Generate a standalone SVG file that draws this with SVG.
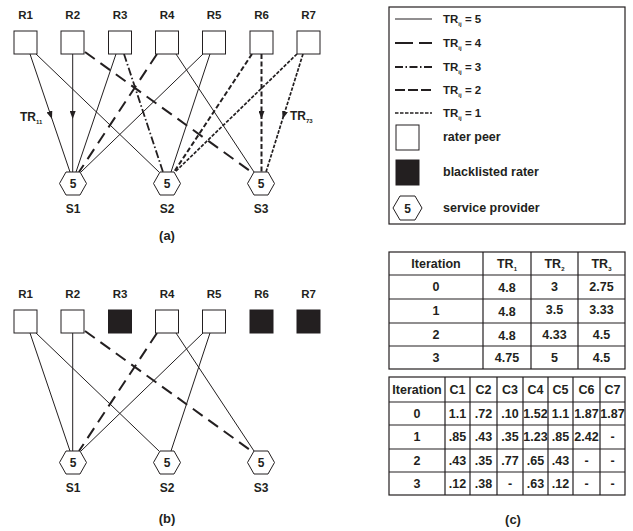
<svg xmlns="http://www.w3.org/2000/svg" xmlns:xlink="http://www.w3.org/1999/xlink" width="633" height="531" viewBox="0 0 633 531">
  <style>
    text { font-family: "Liberation Sans", Arial, sans-serif; font-weight: bold; fill: #231f20; }
    .lbl { font-size: 11.5px; text-anchor: middle; }
    .cap { font-size: 13px; text-anchor: middle; }
    .num { font-size: 12px; text-anchor: middle; }
    .leg { font-size: 11.5px; }
    .legw { font-size: 12.5px; }
    .cell { font-size: 12.5px; text-anchor: middle; }
    .sub { font-size: 6px; }
    .box { fill: #fff; stroke: #231f20; stroke-width: 1; }
    .blk { fill: #231f20; stroke: #231f20; stroke-width: 1; }
    .hex { fill: #fff; stroke: #231f20; stroke-width: 1; }
    .frame { fill: none; stroke: #231f20; stroke-width: 1.2; }
    .grid { stroke: #231f20; stroke-width: 1.2; }
    .tr5 { fill: none; stroke: #231f20; stroke-width: 1; }
    .tr4 { fill: none; stroke: #231f20; stroke-width: 2; stroke-dasharray: 12 7; }
    .tr3 { fill: none; stroke: #231f20; stroke-width: 1.8; stroke-dasharray: 8 2.5 1.5 2.5; }
    .tr2 { fill: none; stroke: #231f20; stroke-width: 2; stroke-dasharray: 5 2.5; }
    .tr1 { fill: none; stroke: #231f20; stroke-width: 1.7; stroke-dasharray: 3.5 1.5; }
    .arr { marker-mid: url(#ah); }
  </style>
  <defs>
    <polygon id="hx" class="hex" points="-13.5,0 -7,-11.5 7,-11.5 13.5,0 7,11.5 -7,11.5"/>
    <marker id="ah" viewBox="0 0 8 6" refX="8" refY="3" markerWidth="8" markerHeight="6" markerUnits="userSpaceOnUse" orient="auto">
      <path d="M0,0L8,3L0,6Z" fill="#231f20"/>
    </marker>
  </defs>

  <!-- Panel (a): trust ratings before filtering -->
  <g id="panel-a">
    <g id="a-connectors">
      <path class="tr5 arr" d="M30,54 L52,119 L70,172"/>
      <path class="tr5" d="M36,54 L159,172"/>
      <path class="tr5 arr" d="M72.7,54 L72.7,119 L72.7,172"/>
      <path class="tr4" d="M85,52 L250,171"/>
      <path class="tr5" d="M116,54 L76,172"/>
      <path class="tr3" d="M124,54 L163,172"/>
      <path class="tr4" d="M157,54 L79,172"/>
      <path class="tr5" d="M176,54 L254,172"/>
      <path class="tr5" d="M203,54 L81,172"/>
      <path class="tr5" d="M210,54 L171,172"/>
      <path class="tr2" d="M252,54 L174,172"/>
      <path class="tr2 arr" d="M261.5,54 L261.5,119 L261.5,172"/>
      <path class="tr1" d="M297,54 L175,172"/>
      <path class="tr1 arr" d="M303,54 L282.6,119 L266,172"/>
      <text x="20" y="121" style="font-size:12px">TR<tspan class="sub" dy="3">11</tspan></text>
      <text x="290" y="120" style="font-size:12px">TR<tspan class="sub" dy="3">73</tspan></text>
    </g>
    <g id="a-R1"><rect class="box" x="14" y="31" width="23" height="23"/><text class="lbl" x="25.5" y="19">R1</text></g>
    <g id="a-R2"><rect class="box" x="61" y="31" width="23" height="23"/><text class="lbl" x="72.7" y="19">R2</text></g>
    <g id="a-R3"><rect class="box" x="108.5" y="31" width="23" height="23"/><text class="lbl" x="120" y="19">R3</text></g>
    <g id="a-R4"><rect class="box" x="155.5" y="31" width="23" height="23"/><text class="lbl" x="167" y="19">R4</text></g>
    <g id="a-R5"><rect class="box" x="202.5" y="31" width="23" height="23"/><text class="lbl" x="214" y="19">R5</text></g>
    <g id="a-R6"><rect class="box" x="250" y="31" width="23" height="23"/><text class="lbl" x="261.5" y="19">R6</text></g>
    <g id="a-R7"><rect class="box" x="297" y="31" width="23" height="23"/><text class="lbl" x="308.5" y="19">R7</text></g>
    <g id="a-S1"><use xlink:href="#hx" x="73" y="183.5"/><text class="num" x="73" y="188">5</text><text class="lbl" x="73" y="213" style="font-size:12px">S1</text></g>
    <g id="a-S2"><use xlink:href="#hx" x="167" y="183.5"/><text class="num" x="167" y="188">5</text><text class="lbl" x="167" y="213" style="font-size:12px">S2</text></g>
    <g id="a-S3"><use xlink:href="#hx" x="261" y="183.5"/><text class="num" x="261" y="188">5</text><text class="lbl" x="261" y="213" style="font-size:12px">S3</text></g>
    <text class="cap" x="167" y="240">(a)</text>
  </g>

  <!-- Panel (b): after blacklisting R3, R6, R7 -->
  <g id="panel-b">
    <g transform="translate(0,279)">
      <g id="b-connectors">
        <path class="tr5" d="M30,54 L70,172"/>
        <path class="tr5" d="M36,54 L159,172"/>
        <path class="tr5" d="M72.7,54 L72.7,172"/>
        <path class="tr4" d="M85,52 L250,171"/>
        <path class="tr4" d="M157,54 L79,172"/>
        <path class="tr5" d="M176,54 L254,172"/>
        <path class="tr5" d="M203,54 L81,172"/>
        <path class="tr5" d="M210,54 L171,172"/>
      </g>
      <g id="b-R1"><rect class="box" x="14" y="31" width="23" height="23"/><text class="lbl" x="25.5" y="19">R1</text></g>
      <g id="b-R2"><rect class="box" x="61" y="31" width="23" height="23"/><text class="lbl" x="72.7" y="19">R2</text></g>
      <g id="b-R3"><rect class="blk" x="108.5" y="31" width="23" height="23"/><text class="lbl" x="120" y="19">R3</text></g>
      <g id="b-R4"><rect class="box" x="155.5" y="31" width="23" height="23"/><text class="lbl" x="167" y="19">R4</text></g>
      <g id="b-R5"><rect class="box" x="202.5" y="31" width="23" height="23"/><text class="lbl" x="214" y="19">R5</text></g>
      <g id="b-R6"><rect class="blk" x="250" y="31" width="23" height="23"/><text class="lbl" x="261.5" y="19">R6</text></g>
      <g id="b-R7"><rect class="blk" x="297" y="31" width="23" height="23"/><text class="lbl" x="308.5" y="19">R7</text></g>
      <g id="b-S1"><use xlink:href="#hx" x="73" y="183.5"/><text class="num" x="73" y="188">5</text><text class="lbl" x="73" y="212.5" style="font-size:12px">S1</text></g>
      <g id="b-S2"><use xlink:href="#hx" x="167" y="183.5"/><text class="num" x="167" y="188">5</text><text class="lbl" x="167" y="212.5" style="font-size:12px">S2</text></g>
      <g id="b-S3"><use xlink:href="#hx" x="261" y="183.5"/><text class="num" x="261" y="188">5</text><text class="lbl" x="261" y="212.5" style="font-size:12px">S3</text></g>
    </g>
    <text class="cap" x="167" y="523">(b)</text>
  </g>

  <!-- Legend -->
  <g id="legend">
    <rect class="frame" x="389" y="7" width="236" height="217"/>
    <line class="tr5" x1="395" y1="19" x2="432" y2="19"/>
    <line class="tr4" x1="395" y1="43" x2="432" y2="43" style="stroke-dasharray:18 6"/>
    <line class="tr3" x1="395" y1="67" x2="432" y2="67"/>
    <line class="tr2" x1="395" y1="90" x2="432" y2="90" style="stroke-dasharray:10 3"/>
    <line class="tr1" x1="395" y1="113" x2="432" y2="113"/>
    <text class="leg" x="443" y="23">TR<tspan class="sub" dy="3">ij</tspan><tspan dy="-3"> = 5</tspan></text>
    <text class="leg" x="443" y="47">TR<tspan class="sub" dy="3">ij</tspan><tspan dy="-3"> = 4</tspan></text>
    <text class="leg" x="443" y="71">TR<tspan class="sub" dy="3">ij</tspan><tspan dy="-3"> = 3</tspan></text>
    <text class="leg" x="443" y="94">TR<tspan class="sub" dy="3">ij</tspan><tspan dy="-3"> = 2</tspan></text>
    <text class="leg" x="443" y="117">TR<tspan class="sub" dy="3">ij</tspan><tspan dy="-3"> = 1</tspan></text>
    <rect class="box" x="396" y="125" width="23" height="25"/>
    <text class="legw" x="443" y="141">rater peer</text>
    <rect class="blk" x="396" y="160" width="23" height="25"/>
    <text class="legw" x="443" y="176">blacklisted rater</text>
    <polygon class="hex" points="393,208 400,196 415,196 422,208 415,220 400,220"/>
    <text class="num" x="407.5" y="212.5">5</text>
    <text class="legw" x="443" y="212">service provider</text>
  </g>

  <!-- Table: aggregated trust per service -->
  <g id="table-tr">
    <rect class="frame" x="389" y="252" width="236" height="117"/>
    <line class="grid" x1="389" y1="275" x2="625" y2="275"/>
    <line class="grid" x1="389" y1="299" x2="625" y2="299"/>
    <line class="grid" x1="389" y1="323" x2="625" y2="323"/>
    <line class="grid" x1="389" y1="346" x2="625" y2="346"/>
    <line class="grid" x1="483" y1="252" x2="483" y2="369"/>
    <line class="grid" x1="531" y1="252" x2="531" y2="369"/>
    <line class="grid" x1="578" y1="252" x2="578" y2="369"/>
    <text class="cell" x="436" y="268">Iteration</text>
    <text class="cell" x="507" y="268">TR<tspan class="sub" dy="3">1</tspan></text>
    <text class="cell" x="554.5" y="268">TR<tspan class="sub" dy="3">2</tspan></text>
    <text class="cell" x="601.5" y="268">TR<tspan class="sub" dy="3">3</tspan></text>
    <text class="cell" x="436" y="291">0</text><text class="cell" x="507" y="292">4.8</text><text class="cell" x="554.5" y="291">3</text><text class="cell" x="601.5" y="291">2.75</text>
    <text class="cell" x="436" y="315">1</text><text class="cell" x="507" y="316">4.8</text><text class="cell" x="554.5" y="314">3.5</text><text class="cell" x="601.5" y="314">3.33</text>
    <text class="cell" x="436" y="338.5">2</text><text class="cell" x="507" y="339.5">4.8</text><text class="cell" x="554.5" y="338.5">4.33</text><text class="cell" x="601.5" y="338.5">4.5</text>
    <text class="cell" x="436" y="361.5">3</text><text class="cell" x="507" y="361.5">4.75</text><text class="cell" x="554.5" y="361.5">5</text><text class="cell" x="601.5" y="361.5">4.5</text>
  </g>

  <!-- Table: rater credibility per iteration -->
  <g id="table-c">
    <rect class="frame" x="389" y="377" width="236" height="118"/>
    <line class="grid" x1="389" y1="402" x2="625" y2="402"/>
    <line class="grid" x1="389" y1="425" x2="625" y2="425"/>
    <line class="grid" x1="389" y1="449" x2="625" y2="449"/>
    <line class="grid" x1="389" y1="472" x2="625" y2="472"/>
    <line class="grid" x1="445" y1="377" x2="445" y2="495"/>
    <line class="grid" x1="470" y1="377" x2="470" y2="495"/>
    <line class="grid" x1="497" y1="377" x2="497" y2="495"/>
    <line class="grid" x1="523" y1="377" x2="523" y2="495"/>
    <line class="grid" x1="548" y1="377" x2="548" y2="495"/>
    <line class="grid" x1="573" y1="377" x2="573" y2="495"/>
    <line class="grid" x1="600" y1="377" x2="600" y2="495"/>
    <text class="cell" x="417" y="394">Iteration</text>
    <text class="cell" x="457.5" y="394">C1</text><text class="cell" x="483.5" y="394">C2</text><text class="cell" x="510" y="394">C3</text><text class="cell" x="535.5" y="394">C4</text><text class="cell" x="560.5" y="394">C5</text><text class="cell" x="586.5" y="394">C6</text><text class="cell" x="612.5" y="394">C7</text>
    <text class="cell" x="417" y="417.5">0</text>
    <text class="cell" x="457.5" y="418">1.1</text><text class="cell" x="483.5" y="418">.72</text><text class="cell" x="510" y="418">.10</text><text class="cell" x="535.5" y="418">1.52</text><text class="cell" x="560.5" y="418">1.1</text><text class="cell" x="586.5" y="418">1.87</text><text class="cell" x="612.5" y="418">1.87</text>
    <text class="cell" x="417" y="441">1</text>
    <text class="cell" x="457.5" y="441">.85</text><text class="cell" x="483.5" y="441">.43</text><text class="cell" x="510" y="441">.35</text><text class="cell" x="535.5" y="441">1.23</text><text class="cell" x="560.5" y="441">.85</text><text class="cell" x="586.5" y="441">2.42</text><text class="cell" x="612.5" y="441">-</text>
    <text class="cell" x="417" y="464.5">2</text>
    <text class="cell" x="457.5" y="464.5">.43</text><text class="cell" x="483.5" y="464.5">.35</text><text class="cell" x="510" y="464.5">.77</text><text class="cell" x="535.5" y="464.5">.65</text><text class="cell" x="560.5" y="464.5">.43</text><text class="cell" x="586.5" y="464.5">-</text><text class="cell" x="612.5" y="464.5">-</text>
    <text class="cell" x="417" y="487.5">3</text>
    <text class="cell" x="457.5" y="487.5">.12</text><text class="cell" x="483.5" y="487.5">.38</text><text class="cell" x="510" y="487.5">-</text><text class="cell" x="535.5" y="487.5">.63</text><text class="cell" x="560.5" y="487.5">.12</text><text class="cell" x="586.5" y="487.5">-</text><text class="cell" x="612.5" y="487.5">-</text>
  </g>
  <text class="cap" x="513" y="524">(c)</text>
</svg>
